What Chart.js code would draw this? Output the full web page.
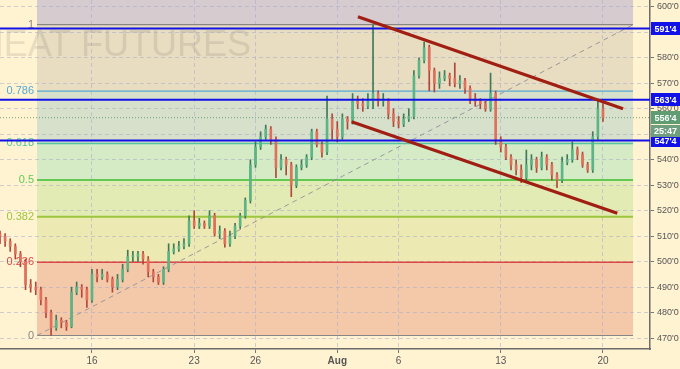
<!DOCTYPE html>
<html>
<head>
<meta charset="utf-8">
<script src="https://cdn.jsdelivr.net/npm/chart.js@4/dist/chart.umd.min.js"></script>
<style>
html,body{margin:0;padding:0;background:#FFF3D2;}
canvas{display:block;}
</style>
</head>
<body>
<canvas id="c" width="680" height="369"></canvas>
<script>
// ---------- DATA ----------
// Bars: trading-day time axis (0 = Mon Jul 16), one bar every quarter day
const barStartDay = -4.5;
const barStepDay = 0.25;
const firstOpen = 511;
const closes = [
  510,508,506,503,500,491,490,489,485,480,
  474,477,476,474.5,488,490,489,485,495,494,
  495,493,490,493,497,502,502,503,501,496,
  494,492,497,504,505,506,507,516,514,515,
  514,518,511,512,507,510,514,518,524,538,
  545,549,552,548,537,540,538,530,537,538,
  541,551,546,543,556,552,549,556,555,563,
  562,561,563,566,563,563,558,555,554,556,
  557,573,579,584,575,570,572,573,572,570,
  571,568,564,563,562,560,566,548,545,541,
  538,536,533,538,540,537,541,538,534,532,
  539,540,544,542,538,536,549,560,556.5
];
const highs = [
  512,511,509,507,504,501,493,492,490,486,
  481,479,478,477,490,492,491,490,497,497,
  497,496,494,495,499,504.5,504,504,504,502,
  497,495,498,507,507,508,509,518,520,517,
  516,520,519,514,513,512,515,519,525,540,
  547,551,553.6,553,549,542,541,539,538,540,
  542,552,552,547,565,558,555,558,557,566,
  565,564,566,593,567,566,564,560,557,558,
  560,575,580,586.2,585,576,574.5,575,574,578,
  573,572,569,566,564,563,574,567,549,546,
  542,540,538,543.8,542,541,543,542,539,535,
  541,542,547,545,543,539,551,563.5,562
];
const lows = [
  507,506,504,501,498,489,488,487,483,478,
  471,473,474,473,474,487,486,482,484,492,
  493,492,488,489,492,496,500,500,499,494,
  492,491,491,496,503,504,505,506,513,513,
  513,513,510,509,505.7,506,509,513,517,523,
  537,544,548,546,533,536,534,525.5,529,536,
  537,540,545,541,542,548,547,548,552,554,
  560,559,560,560,561,561,556,553,552.5,553,
  555,556,572,578,567,566.6,568,571,569,568.6,
  568,566,562,561,560,559,559,546,543,540,
  536,534,531,532,536,535,536,536,532,529,
  531,538,539,540,537,535,535,548,555
];

// Axis ticks
const xTickDays = [0, 5, 8, 12, 15, 20, 25];
const xTickLabels = ['16', '23', '26', 'Aug', '6', '13', '20'];
const yTicks = [470,480,490,500,510,520,530,540,550,560,570,580,590,600];

// Fibonacci retracement
const fibRatios = [0, 0.236, 0.382, 0.5, 0.618, 0.786, 1];
const fibLabelTexts = ['0', '0.236', '0.382', '0.5', '0.618', '0.786', '1'];
const fibLow = 471;
const fibHigh = 593;
const fibStartDay = -2.69;
const fibEndDay = 26.47;

// Horizontal key levels
const keyLevels = [591.5, 563.5, 547.5];
const keyLabels = ["591'4", "563'4", "547'4"];
const lastPrice = 556.5;
const lastPriceLabel = "556'4";
const countdownLabel = "25:47";

// Channel lines [startDay, startPrice, endDay, endPrice]
const channelUpper = [13.01, 596.1, 25.98, 560.0];
const channelLower = [12.7, 554.9, 25.7, 519.0];

// ---------- STYLE ----------
const xMin = -4.5, xMax = 27.3, yMin = 465.7, yMax = 602.7;
const bgColor = '#FFF3D2';
const fibLineColors = ['#8a8585', '#DD4646', '#9CC63E', '#62C952', '#52C69E', '#55A8D4', '#8a8585'];
const fibLineWidths = [1.2, 1.5, 2, 2, 1.5, 1.2, 1.2];
const fibZoneColors = ['#F4C9AA', '#ECE9B2', '#E2EBB4', '#D4EBC6', '#D7E0CB', '#E8DDC0', '#D6CCD0'];
const upBody = '#5DB585', downBody = '#E0705C', upWick = '#3E7A58', downWick = '#B0473A';
const fontFam = '"Liberation Sans", Arial, sans-serif';

const opens = closes.map((c, i) => i === 0 ? firstOpen : closes[i - 1]);
const barX = closes.map((_, i) => barStartDay + i * barStepDay);
const isUp = closes.map((c, i) => c >= opens[i]);
const fibLevels = fibRatios.map(r => fibLow + r * (fibHigh - fibLow));

const hLine = (v) => [{x: xMin, y: v}, {x: xMax, y: v}];

const datasets = [];
// channel lines (top)
[channelUpper, channelLower].forEach(c => datasets.push({
  type: 'line', data: [{x: c[0], y: c[1]}, {x: c[2], y: c[3]}],
  borderColor: '#A11E12', borderWidth: 3.2, pointRadius: 0, order: 1
}));
// blue key levels
keyLevels.forEach(v => datasets.push({
  type: 'line', data: hLine(v), borderColor: '#1212E8', borderWidth: 2, pointRadius: 0, order: 2
}));
// current price dotted line
datasets.push({
  type: 'line', data: hLine(lastPrice), borderColor: 'rgba(100,150,115,0.9)', borderWidth: 1,
  borderDash: [1, 2], pointRadius: 0, order: 3
});
// candle bodies
datasets.push({
  type: 'bar', data: barX.map((x, i) => ({x, y: [opens[i], closes[i]]})),
  backgroundColor: isUp.map(u => u ? upBody : downBody), borderWidth: 0,
  barThickness: 2, minBarLength: 1, grouped: false, order: 4
});
// candle wicks
datasets.push({
  type: 'bar', data: barX.map((x, i) => ({x, y: [lows[i], highs[i]]})),
  backgroundColor: isUp.map(u => u ? upWick : downWick), borderWidth: 0,
  barThickness: 1, grouped: false, order: 5
});
// fib trend line (dashed)
datasets.push({
  type: 'line', data: [{x: fibStartDay, y: fibLow}, {x: fibEndDay, y: fibHigh}],
  borderColor: 'rgba(150,150,150,0.95)', borderWidth: 1, borderDash: [5, 4], pointRadius: 0, order: 6
});
// fib level lines
fibLevels.forEach((v, k) => datasets.push({
  type: 'line', data: [{x: fibStartDay, y: v}, {x: fibEndDay, y: v}],
  borderColor: fibLineColors[k], borderWidth: fibLineWidths[k], pointRadius: 0, order: 7
}));

const backdrop = {
  id: 'backdrop',
  beforeDraw(chart) {
    const {ctx, chartArea: a, scales: {x, y}} = chart;
    ctx.save();
    ctx.fillStyle = bgColor;
    ctx.fillRect(0, 0, chart.width, chart.height);
    const x0 = x.getPixelForValue(fibStartDay), x1 = x.getPixelForValue(fibEndDay);
    for (let k = 0; k < fibLevels.length; k++) {
      const lo = y.getPixelForValue(fibLevels[k]);
      const hi = k + 1 < fibLevels.length ? y.getPixelForValue(fibLevels[k + 1]) : a.top;
      ctx.fillStyle = fibZoneColors[k];
      ctx.fillRect(x0, hi, x1 - x0, lo - hi);
    }
    ctx.font = '36px ' + fontFam;
    ctx.fillStyle = 'rgba(90,90,90,0.14)';
    ctx.textAlign = 'right';
    ctx.textBaseline = 'alphabetic';
    ctx.fillText('WHEAT FUTURES', 251, 56);
    ctx.restore();
  },
  beforeDatasetsDraw(chart) {
    const {ctx, scales: {x, y}} = chart;
    const x0 = x.getPixelForValue(fibStartDay);
    ctx.save();
    ctx.font = '11px ' + fontFam;
    ctx.textAlign = 'right';
    ctx.textBaseline = 'middle';
    fibLevels.forEach((v, k) => {
      ctx.fillStyle = fibLineColors[k];
      ctx.fillText(fibLabelTexts[k], x0 - 3, y.getPixelForValue(v));
    });
    ctx.restore();
  },
  afterDraw(chart) {
    const {ctx, chartArea: a, scales: {y}} = chart;
    ctx.save();
    ctx.font = 'bold 9px ' + fontFam;
    ctx.textAlign = 'center';
    ctx.textBaseline = 'middle';
    const bx = a.right + 1, bw = 29;
    const box = (yc, h, fill, txt) => {
      ctx.fillStyle = fill;
      ctx.fillRect(bx, Math.round(yc - h / 2), bw, h);
      ctx.fillStyle = '#ffffff';
      ctx.fillText(txt, bx + bw / 2, yc + 0.5);
    };
    keyLevels.forEach((v, k) => box(y.getPixelForValue(v), 13, '#1212E8', keyLabels[k]));
    const ly = y.getPixelForValue(lastPrice);
    box(ly, 13, '#5E9C72', lastPriceLabel);
    box(ly + 13, 12, '#6E9E7E', countdownLabel);
    ctx.restore();
  }
};

new Chart(document.getElementById('c'), {
  type: 'bar',
  data: {datasets},
  options: {
    responsive: false,
    animation: false,
    devicePixelRatio: 1,
    layout: {padding: 0},
    plugins: {legend: {display: false}, tooltip: {enabled: false}},
    scales: {
      x: {
        type: 'linear', min: xMin, max: xMax, offset: false,
        grid: {offset: false, color: 'rgba(170,170,200,0.55)', tickColor: '#777', tickLength: 4, drawTicks: true},
        border: {color: '#6b6b6b', width: 1.5, dash: [4, 3]},
        ticks: {
          autoSkip: false, maxRotation: 0, includeBounds: false, padding: 2, color: '#555',
          font: (ctx) => ({family: fontFam, size: 10, weight: ctx.index === xTickLabels.indexOf('Aug') ? 'bold' : 'normal'}),
          callback: (v, i) => xTickLabels[i]
        },
        afterBuildTicks: (s) => { s.ticks = xTickDays.map(v => ({value: v})); },
        afterFit: (s) => { s.height = 20; s.paddingLeft = 0; s.paddingRight = 0; }
      },
      y: {
        type: 'linear', position: 'right', min: yMin, max: yMax,
        grid: {offset: false, color: 'rgba(170,170,200,0.55)', tickColor: '#777', tickLength: 4, drawTicks: true},
        border: {color: '#6b6b6b', width: 1.5, dash: [4, 3]},
        ticks: {
          includeBounds: false, padding: 3, color: '#555', font: {family: fontFam, size: 9},
          callback: (v) => v + "'0"
        },
        afterBuildTicks: (s) => { s.ticks = yTicks.map(v => ({value: v})); },
        afterFit: (s) => { s.width = 30; s.paddingTop = 0; s.paddingBottom = 0; }
      }
    }
  },
  plugins: [backdrop]
});
</script>
</body>
</html>
